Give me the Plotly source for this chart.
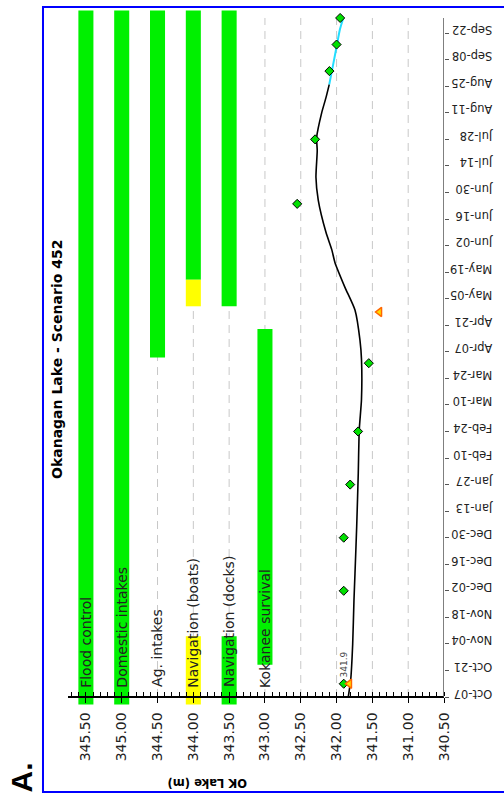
import pandas as pd
import plotly.graph_objects as go

# ---- lake-level axis (m) ----
level_ticks = [345.5, 345.0, 344.5, 344.0, 343.5, 343.0, 342.5, 342.0, 341.5, 341.0, 340.5]

# ---- date axis ticks (two-week spacing) ----
date_ticks = ["2013-10-07", "2013-10-21", "2013-11-04", "2013-11-18", "2013-12-02",
              "2013-12-16", "2013-12-30", "2014-01-13", "2014-01-27", "2014-02-10",
              "2014-02-24", "2014-03-10", "2014-03-24", "2014-04-07", "2014-04-21",
              "2014-05-05", "2014-05-19", "2014-06-02", "2014-06-16", "2014-06-30",
              "2014-07-14", "2014-07-28", "2014-08-11", "2014-08-25", "2014-09-08",
              "2014-09-22"]

# ---- constraint bands ----
band_names = ["Flood control", "Domestic intakes", "Ag. intakes",
              "Navigation (boats)", "Navigation (docks)", "Kokanee survival"]
band_levels = [345.5, 345.0, 344.5, 344.0, 343.5, 343.0]

seg_level = [345.5, 345.0, 344.5, 344.0, 344.0, 344.0, 343.5, 343.5, 343.0]
seg_start = ["2013-10-03", "2013-10-03", "2014-04-04", "2013-10-03", "2014-05-01",
             "2014-05-15", "2013-10-03", "2014-05-01", "2013-10-24"]
seg_end = ["2014-10-04", "2014-10-04", "2014-10-04", "2013-11-08", "2014-05-15",
           "2014-10-04", "2013-11-08", "2014-10-04", "2014-04-19"]
seg_state = ["met", "met", "met", "marginal", "marginal", "met", "met", "met", "met"]

# ---- simulated lake level ----
sim_dates = ["2013-10-07", "2013-10-16", "2013-11-04", "2013-11-27", "2013-12-11",
             "2014-01-05", "2014-02-02", "2014-02-25", "2014-03-13", "2014-04-03",
             "2014-04-13", "2014-04-29", "2014-05-11", "2014-05-24", "2014-05-31",
             "2014-06-09", "2014-06-26", "2014-07-08", "2014-07-22", "2014-07-29",
             "2014-08-11", "2014-08-19", "2014-08-26"]
sim_level = [341.837, 341.803, 341.775, 341.757, 341.743, 341.719, 341.697, 341.683,
             341.652, 341.652, 341.673, 341.743, 341.883, 342.022, 342.068, 342.148,
             342.256, 342.288, 342.270, 342.278, 342.208, 342.148, 342.102]

# ---- forecast continuation ----
fc_dates = ["2014-08-26", "2014-09-05", "2014-09-16", "2014-09-24", "2014-09-30"]
fc_level = [342.102, 342.050, 341.994, 341.953, 341.906]

# ---- observed levels ----
obs_dates = ["2013-10-14", "2013-12-02", "2013-12-30", "2014-01-27", "2014-02-24",
             "2014-04-01", "2014-06-24", "2014-07-28", "2014-09-02", "2014-09-16",
             "2014-09-30"]
obs_level = [341.9, 341.9, 341.9, 341.81, 341.70, 341.55, 342.55, 342.30, 342.10,
             342.00, 341.95]

# ---- target levels ----
tgt_dates = ["2013-10-14", "2014-04-28"]
tgt_level = [341.82, 341.40]

grid_top = "2014-09-30"
grid_bottom = "2013-10-07"
y_range = ["2013-10-02 19:00", "2014-10-04 05:00"]
x_range = [345.75, 340.5]

state_colour = {"met": "#00f000", "marginal": "#ffff00"}
font = "DejaVu Sans"

fig = go.Figure()

# constraint bands as floating bars on the date axis
for state in ["met", "marginal"]:
    idx = [i for i, s in enumerate(seg_state) if s == state]
    dur = [(pd.Timestamp(seg_end[i]) - pd.Timestamp(seg_start[i])).total_seconds() * 1000
           for i in idx]
    fig.add_trace(go.Bar(
        x=[seg_level[i] for i in idx],
        y=dur,
        base=[seg_start[i] for i in idx],
        width=0.21,
        marker=dict(color=state_colour[state], line=dict(width=0)),
        orientation="v",
        showlegend=False,
        hoverinfo="skip",
    ))

fig.add_trace(go.Scatter(x=sim_level, y=sim_dates, mode="lines",
                         line=dict(color="black", width=1.6, shape="spline", smoothing=0.6),
                         showlegend=False))
fig.add_trace(go.Scatter(x=fc_level, y=fc_dates, mode="lines",
                         line=dict(color="#22ddff", width=2, shape="spline", smoothing=0.6),
                         showlegend=False))
fig.add_trace(go.Scatter(x=obs_level, y=obs_dates, mode="markers",
                         marker=dict(symbol="diamond", size=7, color="#00e000",
                                     line=dict(color="black", width=1)),
                         showlegend=False))
fig.add_trace(go.Scatter(x=tgt_level, y=tgt_dates, mode="markers",
                         marker=dict(symbol="triangle-left", size=8, color="#ffdd00",
                                     line=dict(color="#ff6600", width=1.5)),
                         showlegend=False))
# carrier for the overlaid tick axis
fig.add_trace(go.Scatter(x=[None], y=[None], xaxis="x2", yaxis="y",
                         showlegend=False, hoverinfo="skip"))

shapes = []
for lv in level_ticks[:-1]:
    shapes.append(dict(type="line", xref="x", yref="y", x0=lv, x1=lv,
                       y0=grid_bottom, y1=grid_top, layer="below",
                       line=dict(color="#c8c8c8", width=1, dash="8px,6px")))
# date axis line
shapes.append(dict(type="line", xref="x", yref="y", x0=x_range[1], x1=x_range[1],
                   y0=grid_bottom, y1=grid_top, line=dict(color="#555555", width=1.5)))
# frame
shapes.append(dict(type="path", xref="paper", yref="paper",
                   path="M 1.17,1.0043 L -0.0665,1.0043 L -0.0665,-0.1252 L 1.17,-0.1252",
                   line=dict(color="#0000ff", width=2)))

annotations = []
for name, lv in zip(band_names, band_levels):
    annotations.append(dict(x=lv, y="2013-10-11", xref="x", yref="y", text=name,
                            textangle=-90, showarrow=False, xanchor="center",
                            yanchor="bottom", font=dict(family=font, size=14, color="#222222")))
annotations.append(dict(x=obs_level[0], y="2013-10-24", xref="x", yref="y",
                        text=f"{obs_level[0]:.1f}", textangle=-90, showarrow=False,
                        font=dict(family=font, size=9, color="#444444")))
annotations.append(dict(x=(47 - 68) / 376, y=(705 - 360) / 695, xref="paper", yref="paper",
                        text="<b>Okanagan Lake - Scenario 452</b>", textangle=-90,
                        showarrow=False, font=dict(family=font, size=14, color="black")))
annotations.append(dict(x=(208 - 68) / 376, y=(705 - 792) / 695, xref="paper", yref="paper",
                        text="<b>OK Lake (m)</b>", textangle=180, showarrow=False,
                        font=dict(family=font, size=11.5, color="black")))
annotations.append(dict(x=(2 - 68) / 376, y=(705 - 795) / 695, xref="paper", yref="paper",
                        text="<b>A.</b>", textangle=-90, showarrow=False,
                        font=dict(family="Liberation Sans", size=30, color="black")))

axis_pos = (705 - 697) / 695

fig.update_layout(
    width=504, height=798,
    margin=dict(l=68, r=60, t=10, b=93),
    paper_bgcolor="white", plot_bgcolor="white",
    barmode="overlay",
    showlegend=False,
    shapes=shapes,
    annotations=annotations,
    xaxis=dict(range=x_range, tickvals=level_ticks, tickformat=".2f", tickangle=-90,
               ticks="outside", ticklen=5, tickcolor="black", tickwidth=1,
               showline=True, linecolor="black", linewidth=1.5,
               showgrid=False, zeroline=False, anchor="free", position=axis_pos,
               ticklabelstandoff=4,
               tickfont=dict(family=font, size=14, color="#222222"),
               minor=dict(dtick=0.1, tick0=340.5, ticks="inside", ticklen=4,
                          tickcolor="black", showgrid=False)),
    xaxis2=dict(range=x_range, overlaying="x", tickvals=level_ticks, ticks="inside",
                ticklen=5, tickcolor="black", showticklabels=False, showline=False,
                showgrid=False, zeroline=False, anchor="free", position=axis_pos),
    yaxis=dict(type="date", range=y_range, side="right", tickvals=date_ticks,
               tickformat="%b-%d", tickangle=180, ticks="outside", ticklen=4,
               tickcolor="#555555", showline=False, showgrid=False, zeroline=False,
               ticklabelstandoff=41,
               tickfont=dict(family=font, size=11.5, color="#222222")),
)

fig.write_html("out.html")
